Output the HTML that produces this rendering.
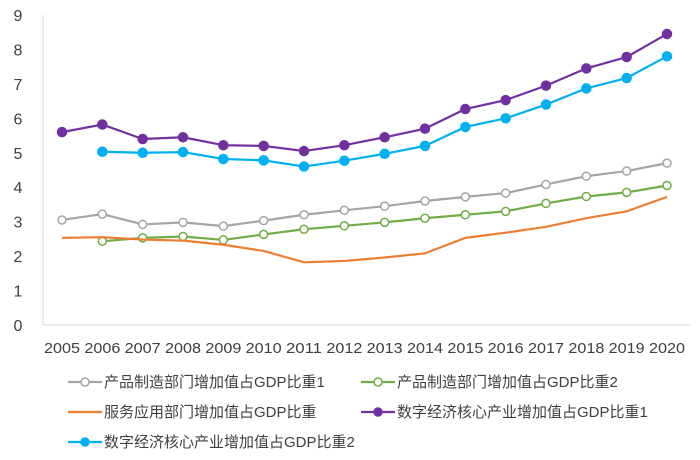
<!DOCTYPE html>
<html><head><meta charset="utf-8"><style>
body{margin:0;background:#fff;}
svg text{font-family:"Liberation Sans","Noto Sans CJK SC",sans-serif;fill:#404040;}
</style></head><body>
<svg id="chart" width="700" height="455" xmlns="http://www.w3.org/2000/svg">
<g id="axes"></g><g id="series"></g><g id="legend"></g>
</svg>
<script>
const years=["2005","2006","2007","2008","2009","2010","2011","2012","2013","2014","2015","2016","2017","2018","2019","2020"];
const yTicks=[0,1,2,3,4,5,6,7,8,9];
const gray=[3.05,3.22,2.92,2.98,2.87,3.03,3.2,3.33,3.45,3.6,3.72,3.83,4.08,4.32,4.47,4.7];
const green=[null,2.43,2.53,2.57,2.47,2.63,2.78,2.88,2.98,3.1,3.2,3.3,3.53,3.73,3.85,4.05];
const orange=[2.53,2.55,2.48,2.45,2.33,2.15,1.82,1.86,1.96,2.08,2.53,2.68,2.85,3.1,3.3,3.72];
const purple=[5.6,5.82,5.4,5.45,5.22,5.2,5.05,5.22,5.45,5.7,6.27,6.53,6.95,7.45,7.78,8.45];
const cyan=[null,5.03,5.0,5.02,4.82,4.78,4.6,4.77,4.97,5.2,5.75,6.0,6.4,6.87,7.17,7.8];
const names=["产品制造部门增加值占GDP比重1","产品制造部门增加值占GDP比重2","服务应用部门增加值占GDP比重","数字经济核心产业增加值占GDP比重1","数字经济核心产业增加值占GDP比重2"];
const NS="http://www.w3.org/2000/svg";
const x=i=>62+i*(667-62)/(years.length-1);
const y=v=>325-v*(310/9);
function mk(t,a,p){const e=document.createElementNS(NS,t);for(const k in a)e.setAttribute(k,a[k]);p.appendChild(e);return e;}
const axes=document.getElementById('axes');
let ax=mk('line',{x1:43,y1:15,x2:43,y2:325,stroke:'#d9d9d9','stroke-width':1},axes);


ax=mk('line',{x1:43,y1:325,x2:690,y2:325,stroke:'#d9d9d9','stroke-width':1},axes);


yTicks.forEach(v=>{const t=mk('text',{x:18,y:y(v)+6,'text-anchor':'middle','font-size':16},axes);t.textContent=v;

});
years.forEach((yr,i)=>{const t=mk('text',{x:x(i),y:353,'text-anchor':'middle','font-size':15,'textLength':36,'lengthAdjust':'spacingAndGlyphs'},axes);t.textContent=yr;

});
const S=[{d:gray,c:'#a5a5a5',m:'open'},{d:green,c:'#70ad47',m:'open'},{d:orange,c:'#ed7d31',m:'none'},{d:purple,c:'#7030a0',m:'fill'},{d:cyan,c:'#00b0f0',m:'fill'}];
const sg=document.getElementById('series');
S.forEach((s,k)=>{const g=mk('g',{},sg);


let pts=[];s.d.forEach((v,i)=>{if(v!==null)pts.push(x(i)+','+y(v));});
mk('polyline',{points:pts.join(' '),fill:'none',stroke:s.c,'stroke-width':2.2},g);
if(s.m!=='none')s.d.forEach((v,i)=>{if(v===null)return;const c=mk('circle',{cx:x(i),cy:y(v),r:s.m==='fill'?4.5:4,fill:s.m==='fill'?s.c:'#fff',stroke:s.c,'stroke-width':1.5},g);

});});
const lg=document.getElementById('legend');
const pos=[[68,382],[361,382],[68,412],[361,412],[68,442]];
S.forEach((s,k)=>{const g=mk('g',{},lg);


const [lx,ly]=pos[k];
mk('line',{x1:lx,y1:ly,x2:lx+34,y2:ly,stroke:s.c,'stroke-width':2.2},g);
if(s.m!=='none')mk('circle',{cx:lx+17,cy:ly,r:4,fill:s.m==='fill'?s.c:'#fff',stroke:s.c,'stroke-width':1.5},g);
const t=mk('text',{x:lx+36,y:ly+5,'font-size':15},g);t.textContent=names[k];});
</script>
</body></html>
